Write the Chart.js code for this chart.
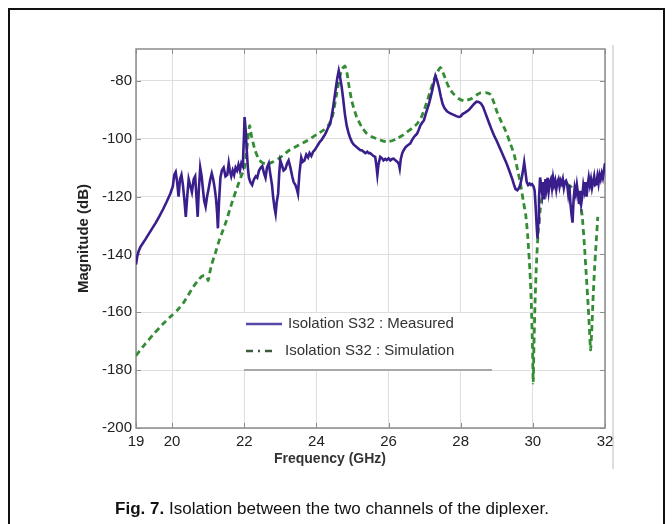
<!DOCTYPE html>
<html lang="en">
<head>
  <meta charset="UTF-8" />
  <title>Isolation S32</title>
  <script src="https://cdn.jsdelivr.net/npm/chart.js"></script>
  <style>
    html, body {
      margin: 0;
      padding: 0;
      overflow: hidden;
      background: #fff;
      font-family: Arial, 'Liberation Sans', sans-serif;
    }
    .frame {
      position: absolute;
      left: 8px;
      top: 8px;
      width: 653px;
      height: 540px;
      border: 2px solid #111;
    }
    .edge {
      position: absolute;
      left: 612px;
      top: 45px;
      width: 2px;
      height: 424px;
      background: #dedede;
    }
    #wrap {
      position: absolute;
      left: 0;
      top: 0;
      width: 672px;
      height: 524px;
    }
    .xtitle {
      position: absolute;
      left: 230px;
      width: 200px;
      top: 450px;
      text-align: center;
      font-weight: bold;
      font-size: 14px;
      color: #333;
    }
    .caption {
      position: absolute;
      left: 0;
      width: 664px;
      top: 499px;
      text-align: center;
      font-size: 17px;
      color: #111;
    }
  </style>
</head>
<body>
  <div class="frame"></div>
  <div class="edge"></div>
  <div id="wrap"><canvas id="chart" width="672" height="524"></canvas></div>
  <div class="xtitle">Frequency (GHz)</div>
  <div class="caption"><b>Fig. 7.</b> Isolation between the two channels of the diplexer.</div>

  <script>
    // values (GHz / dB)
    const freqMeasured = [
      19.00, 19.03, 19.07, 19.12, 19.18, 19.26, 19.35, 19.45, 19.55, 19.65, 19.75, 19.85, 19.95,
      20.02, 20.06, 20.10, 20.14, 20.18, 20.22, 20.26, 20.30, 20.34, 20.38, 20.42, 20.46, 20.50,
      20.55, 20.60, 20.64, 20.68, 20.71, 20.74, 20.78, 20.82, 20.86, 20.89, 20.93, 20.97, 21.01,
      21.06, 21.10, 21.14, 21.18, 21.22, 21.25, 21.27, 21.30, 21.34, 21.38, 21.43, 21.48, 21.53,
      21.57, 21.60, 21.64, 21.68, 21.72, 21.76, 21.80, 21.84, 21.88, 21.92, 21.96, 21.99, 22.01,
      22.04, 22.07, 22.10, 22.13, 22.17, 22.22, 22.27, 22.32, 22.36, 22.41, 22.46, 22.50, 22.55,
      22.59, 22.63, 22.68, 22.72, 22.77, 22.80, 22.84, 22.87, 22.90, 22.94, 22.97, 23.00, 23.04,
      23.09, 23.14, 23.19, 23.23, 23.28, 23.33, 23.37, 23.42, 23.46, 23.49, 23.53, 23.58, 23.62,
      23.67, 23.72, 23.77, 23.81, 23.86, 23.91, 23.95, 24.00, 24.05, 24.10, 24.14, 24.19, 24.24,
      24.28, 24.33, 24.38, 24.42, 24.46, 24.50, 24.54, 24.58, 24.62, 24.66, 24.70, 24.74, 24.79,
      24.84, 24.89, 24.93, 24.98, 25.03, 25.08, 25.12, 25.17, 25.22, 25.26, 25.31, 25.36, 25.41,
      25.45, 25.49, 25.54, 25.58, 25.63, 25.66, 25.69, 25.72, 25.77, 25.82, 25.86, 25.91, 25.95,
      26.00, 26.05, 26.10, 26.14, 26.19, 26.24, 26.28, 26.31, 26.34, 26.38, 26.42, 26.47, 26.51,
      26.56, 26.60, 26.65, 26.70, 26.75, 26.79, 26.84, 26.88, 26.93, 26.98, 27.03, 27.08, 27.12,
      27.17, 27.21, 27.26, 27.30, 27.35, 27.40, 27.45, 27.50, 27.55, 27.62, 27.70, 27.79, 27.88,
      27.95, 28.00, 28.05, 28.12, 28.18, 28.23, 28.30, 28.37, 28.44, 28.50, 28.56, 28.62, 28.68,
      28.74, 28.80, 28.87, 28.94, 29.00, 29.07, 29.14, 29.20, 29.27, 29.33, 29.38, 29.43, 29.48,
      29.52, 29.57, 29.62, 29.66, 29.70, 29.74, 29.76, 29.79, 29.83, 29.87, 29.91, 29.95, 29.98,
      30.02, 30.05, 30.08, 30.11, 30.13, 30.15, 30.17, 30.20, 30.23, 30.26, 30.29, 30.32, 30.35,
      30.38, 30.41, 30.44, 30.47, 30.50, 30.53, 30.56, 30.59, 30.62, 30.65, 30.68, 30.71, 30.74,
      30.77, 30.80, 30.83, 30.86, 30.89, 30.92, 30.95, 30.98, 31.01, 31.04, 31.07, 31.10, 31.13,
      31.16, 31.19, 31.22, 31.25, 31.28, 31.31, 31.34, 31.37, 31.40, 31.43, 31.46, 31.49, 31.52,
      31.55, 31.58, 31.61, 31.64, 31.67, 31.70, 31.73, 31.76, 31.79, 31.82, 31.85, 31.88, 31.91,
      31.94, 31.97, 32.00
    ];
    const magMeasured = [
      -143.5, -141, -139, -137.5, -136.3, -134.8, -133, -131, -129, -126.8, -124.4, -121.8, -119,
      -116.5, -112.5, -111.5, -115, -120, -114, -112.5, -116, -121, -127, -120, -114, -116,
      -118.5, -114, -113, -121, -127, -118, -110, -113, -118, -121.5, -123.5, -120, -117.5,
      -114, -112, -114, -117, -121, -126, -131, -122, -113.5, -111, -110, -113, -112.5,
      -108.5, -111, -113, -111, -112.5, -110, -111, -109, -111, -108.5, -109.5, -100, -92.5,
      -97, -104, -110, -113.5, -115, -116, -114, -113, -113.5, -111, -110, -109.5, -112,
      -113.5, -110, -108.5, -112, -116, -120, -124, -126, -122, -119, -112, -107.5, -109,
      -111, -110.5, -108.5, -107.5, -110, -113, -115, -116, -117.5, -119, -112, -106.5, -108,
      -107.5, -105.5, -106.5, -105, -106, -104.5, -104, -103, -102, -101, -100.5, -99.5, -98.5,
      -97.5, -96, -95, -92.5, -89.5, -86, -82.5, -79, -76.5, -79, -82, -86, -91.5,
      -95.5, -98, -99.5, -101, -102, -102.5, -103, -103.5, -104, -104, -104.5, -105, -104.5,
      -105, -105, -105.5, -106, -106.3, -109, -112.5, -109, -106.3, -106.8, -107.5, -107, -107.4,
      -106.8, -107.5, -107, -106.9, -107.5, -108, -108.5, -110.3, -107, -105, -104, -103, -102.5,
      -102, -101.7, -100.5, -99.5, -98.8, -98.3, -96.8, -95.5, -94.5, -93.7, -91.5, -89.5, -88,
      -85.5, -83.4, -80.5, -78.3, -80, -82.5, -85.5, -88, -89.4, -90.5, -91.2, -91.7, -92.2,
      -92.5, -92.3, -91.5, -91, -90.5, -90, -89, -88, -87.2, -87.3, -87.8, -89, -91,
      -93, -95, -97.3, -99.3, -100.8, -102.8, -104.8, -106.5, -108.5, -110.5, -112.2, -114, -116,
      -117.4, -117.8, -117, -115.5, -113, -110, -108.2, -111, -115, -116, -115.5, -116, -115.7,
      -116.5, -118, -124, -131, -134.5, -129, -121, -113.4, -116, -119, -115, -121, -114,
      -117, -113.5, -118, -115, -114, -117, -113.5, -116, -114.5, -117.5, -115, -114, -116.5,
      -114.5, -115.5, -114, -117, -115, -114.5, -115.6, -119, -116, -122, -126, -129, -121,
      -117, -119, -116, -119, -122.5, -118, -122.5, -120, -116, -118, -115, -120, -116,
      -113.4, -116, -114, -117, -115, -113, -116, -115.7, -113, -115.5, -112.5, -114, -112,
      -113.5, -111, -108.5
    ];

    const freqSimulated = [
      19.00, 19.25, 19.50, 19.75, 20.00, 20.15, 20.30, 20.45, 20.60, 20.75, 20.85, 20.95, 21.00,
      21.05, 21.10, 21.20, 21.30, 21.40, 21.50, 21.60, 21.70, 21.80, 21.90, 22.00, 22.05, 22.10,
      22.15, 22.20, 22.30, 22.40, 22.50, 22.60, 22.70, 22.80, 23.00, 23.25, 23.50, 23.75, 24.00,
      24.20, 24.35, 24.45, 24.56, 24.65, 24.72, 24.79, 24.85, 24.90, 24.98, 25.05, 25.12, 25.25,
      25.40, 25.55, 25.67, 25.80, 25.95, 26.10, 26.23, 26.37, 26.51, 26.65, 26.79, 26.90, 26.98,
      27.07, 27.16, 27.25, 27.35, 27.44, 27.52, 27.63, 27.72, 27.81, 27.95, 28.09, 28.20, 28.32,
      28.45, 28.55, 28.70, 28.83, 28.92, 29.00, 29.12, 29.25, 29.37, 29.48, 29.58, 29.66, 29.74,
      29.80, 29.86, 29.92, 29.96, 29.99, 30.01, 30.03, 30.06, 30.10, 30.15, 30.20, 30.26, 30.35,
      30.50, 30.70, 30.90, 31.05, 31.20, 31.30, 31.37, 31.43, 31.48, 31.53, 31.57, 31.60, 31.63,
      31.67, 31.71, 31.75, 31.80
    ];
    const magSimulated = [
      -175, -171, -167.4, -164, -161, -159.2, -157, -154, -151, -148.5, -147.4, -147.6, -149,
      -146, -143.4, -139.5, -135.4, -132, -128.6, -124.5, -120.6, -117, -113.5, -110.3, -106, -100.5,
      -95.5, -99, -104, -107, -108.3, -108.7, -108.5, -108, -106.5, -104, -102.3, -100.6, -98.6,
      -97, -95, -92, -84.6, -78.5, -75.8, -74.9, -77.5, -81.5, -86.9, -90, -92.6, -95.8,
      -98.3, -99.4, -100, -100.6, -101.1, -100.7, -100, -99, -97.7, -96.4, -94.9, -92.8, -90.3,
      -87, -83.4, -80, -77.1, -75.4, -77.5, -81.1, -83.2, -84.6, -86.2, -86.9, -86.6, -86,
      -84.8, -84.2, -84.1, -84.8, -87.5, -90.5, -94, -97.4, -101.5, -105.4, -111, -115.7, -122,
      -126, -134, -146, -158, -172, -184.5, -172, -157, -143, -132, -125, -120, -117,
      -115.5, -115, -115.5, -116.5, -119, -121, -127, -137, -147, -157, -166, -173, -167,
      -155, -145, -137, -127
    ];

    const seriesLabels = ['Isolation S32 : Measured', 'Isolation S32 : Simulation'];
    const xTickValues = [19, 20, 22, 24, 26, 28, 30, 32];
    const yTickValues = [-200, -180, -160, -140, -120, -100, -80];

    const measuredColor = '#3a1e8c';
    const simColor = '#348c34';

    Chart.defaults.font.family = "Arial, 'Liberation Sans', sans-serif";

    // axes box with small inward ticks, matlab style
    const boxPlugin = {
      id: 'box',
      beforeDatasetsDraw(chart) {
        const { ctx, chartArea: a, scales: { x, y } } = chart;
        ctx.save();
        ctx.strokeStyle = '#8c8c8c';
        ctx.lineWidth = 1.5;
        ctx.strokeRect(a.left, a.top, a.right - a.left, a.bottom - a.top);
        ctx.lineWidth = 1;
        ctx.beginPath();
        xTickValues.forEach(v => {
          const px = Math.round(x.getPixelForValue(v)) + 0.5;
          ctx.moveTo(px, a.bottom); ctx.lineTo(px, a.bottom - 5);
          ctx.moveTo(px, a.top); ctx.lineTo(px, a.top + 5);
        });
        yTickValues.forEach(v => {
          const py = Math.round(y.getPixelForValue(v)) + 0.5;
          ctx.moveTo(a.left, py); ctx.lineTo(a.left + 5, py);
          ctx.moveTo(a.right, py); ctx.lineTo(a.right - 5, py);
        });
        ctx.stroke();
        ctx.restore();
      }
    };

    // legend box sitting inside the plot
    const legendPlugin = {
      id: 'innerLegend',
      afterDatasetsDraw(chart) {
        const { ctx, chartArea: a } = chart;
        const left = a.left + 108, top = a.top + 264;
        ctx.save();
        ctx.fillStyle = '#fff';
        ctx.fillRect(left, top, 248, 57);
        ctx.strokeStyle = '#a8a8a8';
        ctx.lineWidth = 2;
        ctx.beginPath();
        ctx.moveTo(left, top + 57); ctx.lineTo(left + 248, top + 57);
        ctx.stroke();

        ctx.lineWidth = 2.5;
        ctx.strokeStyle = '#5a45a8';
        ctx.beginPath();
        ctx.moveTo(left + 2, top + 11); ctx.lineTo(left + 38, top + 11);
        ctx.stroke();

        ctx.strokeStyle = '#3d5a3d';
        ctx.setLineDash([7, 5, 2, 5]);
        ctx.beginPath();
        ctx.moveTo(left + 2, top + 38); ctx.lineTo(left + 33, top + 38);
        ctx.stroke();
        ctx.setLineDash([]);

        ctx.fillStyle = '#333';
        ctx.font = "15px Arial, 'Liberation Sans', sans-serif";
        ctx.textBaseline = 'middle';
        ctx.fillText(seriesLabels[0], left + 44, top + 11);
        ctx.fillText(seriesLabels[1], left + 41, top + 38);
        ctx.restore();
      }
    };

    new Chart(document.getElementById('chart'), {
      type: 'line',
      data: {
        datasets: [
          {
            label: seriesLabels[0],
            data: freqMeasured.map((f, i) => ({ x: f, y: magMeasured[i] })),
            borderColor: measuredColor,
            borderWidth: 2.6,
            pointRadius: 0,
            tension: 0
          },
          {
            label: seriesLabels[1],
            data: freqSimulated.map((f, i) => ({ x: f, y: magSimulated[i] })),
            borderColor: simColor,
            borderWidth: 2.8,
            borderDash: [6, 4],
            pointRadius: 0,
            tension: 0.2
          }
        ]
      },
      options: {
        responsive: false,
        animation: false,
        layout: { padding: { left: 0, top: 49, right: 67, bottom: 0 } },
        plugins: {
          legend: { display: false },
          tooltip: { enabled: false }
        },
        scales: {
          x: {
            type: 'linear',
            min: 19,
            max: 32,
            afterBuildTicks: s => { s.ticks = xTickValues.map(v => ({ value: v })); },
            afterFit: s => { s.height = 96; },
            grid: { color: '#dedede', lineWidth: 1, drawTicks: false },
            border: { display: false },
            ticks: {
              padding: 5,
              autoSkip: false,
              maxRotation: 0,
              color: '#222',
              font: { size: 15 }
            }
          },
          y: {
            min: -200,
            max: -69,
            afterBuildTicks: s => { s.ticks = yTickValues.map(v => ({ value: v })); },
            afterFit: s => { s.width = 136; },
            grid: { color: '#dedede', lineWidth: 1, drawTicks: false },
            border: { display: false },
            ticks: {
              padding: 4,
              color: '#222',
              font: { size: 15 }
            },
            title: {
              display: true,
              text: 'Magnitude (dB)',
              color: '#222',
              font: { size: 15, weight: 'bold' },
              padding: { top: 75, bottom: 0 }
            }
          }
        }
      },
      plugins: [boxPlugin, legendPlugin]
    });
  </script>
</body>
</html>
